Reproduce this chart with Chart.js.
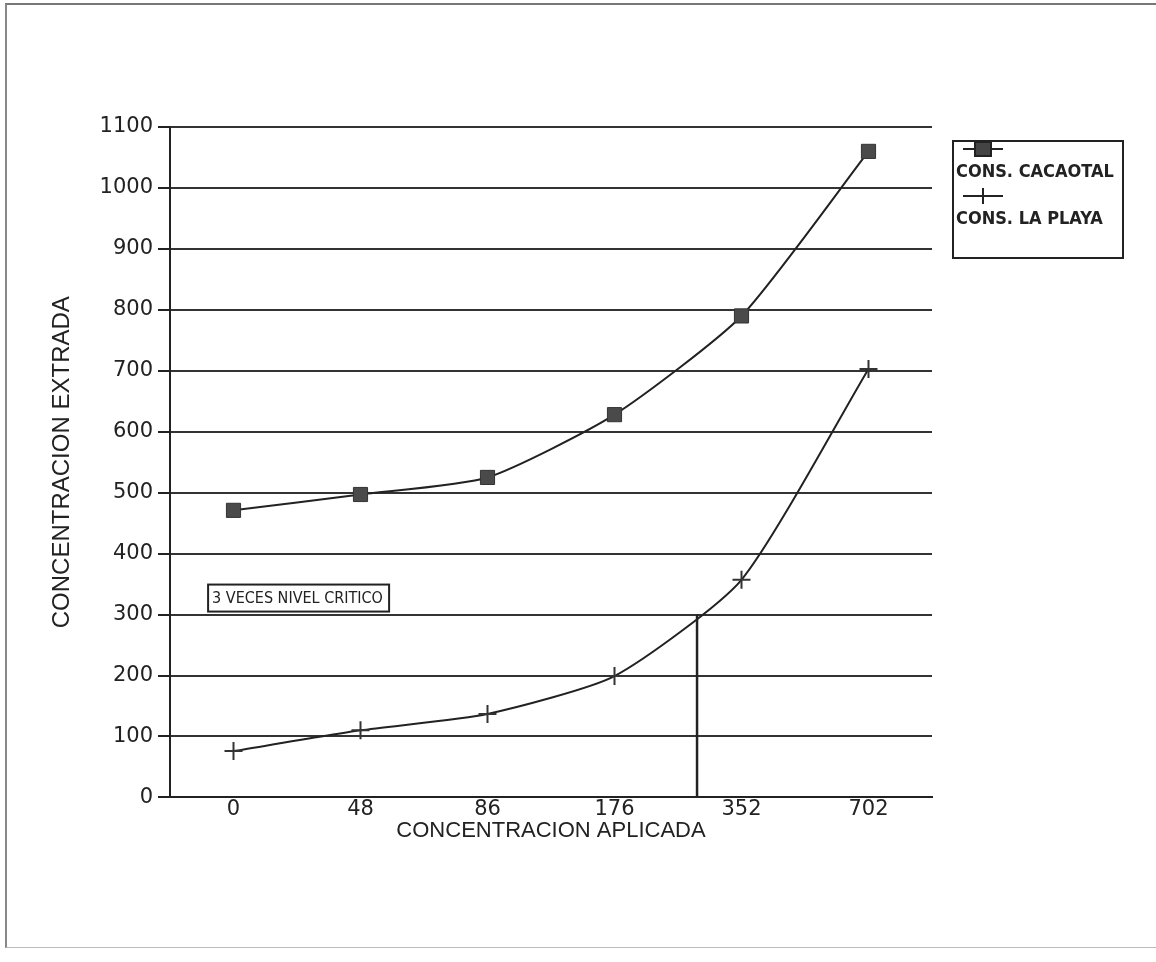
<!DOCTYPE html>
<html>
<head>
<meta charset="utf-8">
<script src="https://cdn.jsdelivr.net/npm/chart.js@4.4.1/dist/chart.umd.min.js"></script>
<style>
  html, body { margin: 0; padding: 0; background: #fff; }
  #wrap { position: relative; width: 1156px; height: 962px; }
  #frame { position: absolute; left: 5px; top: 3px; width: 1151px; height: 942px;
    border-left: 2px solid #888; border-top: 2px solid #777; border-bottom: 1px solid #bbb; }
  canvas { position: absolute; left: 0; top: 0; }
</style>
</head>
<body>
<div id="wrap">
  <div id="frame"></div>
  <canvas id="chart" width="1156" height="962"></canvas>
</div>
<script>
// data
const categories = ["0", "48", "86", "176", "352", "702"];
const cacaotal = [471, 497, 525, 628, 790, 1060];
const laPlaya = [76, 110, 137, 199, 357, 703];
const seriesNames = ["CONS. CACAOTAL", "CONS. LA PLAYA"];
const criticalLabel = "3 VECES NIVEL CRITICO";
const criticalLevel = 300;
const criticalIndex = 3.65; // where the la playa curve crosses 300

const ink = "#222";
const titleFont = "'Liberation Sans', Arial, sans-serif";
const narrowFont = "'Liberation Sans Narrow', 'DejaVu Sans Condensed', sans-serif";
const tickFont = "'DejaVu Sans', sans-serif";

// vertical line + note box
const criticalPlugin = {
  id: "critical",
  afterDatasetsDraw(chart) {
    const ctx = chart.ctx;
    const x = chart.scales.x, y = chart.scales.y;
    const px = x.getPixelForValue(criticalIndex);
    ctx.save();
    ctx.strokeStyle = ink;
    ctx.lineWidth = 2.5;
    ctx.beginPath();
    ctx.moveTo(px, y.getPixelForValue(criticalLevel));
    ctx.lineTo(px, y.getPixelForValue(0));
    ctx.stroke();

    // note box
    ctx.font = "16px " + narrowFont;
    const left = x.getPixelForValue(-0.2);
    const top = y.getPixelForValue(criticalLevel) - 30;
    const w = 181;
    ctx.fillStyle = "#fff";
    ctx.fillRect(left, top, w, 27);
    ctx.lineWidth = 2;
    ctx.strokeRect(left, top, w, 27);
    ctx.fillStyle = ink;
    ctx.textBaseline = "middle";
    ctx.fillText(criticalLabel, left + 4, top + 14, w - 8);
    ctx.restore();
  }
};

// legend box to the right of the plot
const legendPlugin = {
  id: "sideLegend",
  afterDraw(chart) {
    const ctx = chart.ctx;
    const bx = 953, by = 141, bw = 170, bh = 117;
    ctx.save();
    ctx.strokeStyle = ink;
    ctx.lineWidth = 2;
    ctx.strokeRect(bx, by, bw, bh);
    ctx.font = "bold 18px " + narrowFont;
    ctx.textBaseline = "middle";
    chart.data.datasets.forEach((ds, i) => {
      const ly = by + 8 + i * 47;
      ctx.strokeStyle = ink;
      ctx.lineWidth = 2;
      ctx.beginPath();
      ctx.moveTo(bx + 10, ly);
      ctx.lineTo(bx + 50, ly);
      ctx.stroke();
      ctx.fillStyle = "#444";
      if (ds.pointStyle === "rect") {
        ctx.fillRect(bx + 22, ly - 7, 16, 14);
        ctx.strokeRect(bx + 22, ly - 7, 16, 14);
      } else {
        ctx.beginPath();
        ctx.moveTo(bx + 30, ly - 8);
        ctx.lineTo(bx + 30, ly + 8);
        ctx.stroke();
      }
      ctx.fillStyle = ink;
      ctx.fillText(ds.label, bx + 3, ly + 23, bw - 6);
    });
    ctx.restore();
  }
};

new Chart(document.getElementById("chart").getContext("2d"), {
  type: "line",
  data: {
    labels: categories,
    datasets: [
      {
        label: seriesNames[0],
        data: cacaotal,
        borderColor: ink,
        borderWidth: 2,
        backgroundColor: "#4a4a4a",
        pointStyle: "rect",
        pointRadius: 10,
        pointBorderColor: "#333",
        pointBorderWidth: 1,
        tension: 0.2,
      },
      {
        label: seriesNames[1],
        data: laPlaya,
        borderColor: ink,
        borderWidth: 2,
        backgroundColor: ink,
        pointStyle: "cross",
        pointRadius: 9,
        pointBorderColor: "#333",
        pointBorderWidth: 2,
        tension: 0.2,
      },
    ],
  },
  options: {
    responsive: false,
    animation: false,
    maintainAspectRatio: false,
    layout: { padding: { left: 44, right: 224, top: 127, bottom: 114 } },
    plugins: {
      legend: { display: false },
      tooltip: { enabled: false },
    },
    scales: {
      x: {
        offset: true,
        grid: { display: false, drawTicks: true, tickLength: 6, tickColor: ink, tickWidth: 2 },
        border: { color: ink, width: 2 },
        ticks: { color: ink, font: { family: tickFont, size: 21 }, padding: -6 },
        title: {
          display: true,
          text: "CONCENTRACION APLICADA",
          color: ink,
          font: { family: titleFont, size: 22 },
          padding: { top: 1 },
        },
      },
      y: {
        min: 0,
        max: 1100,
        afterFit(scale) { scale.width = 126; },
        grid: { color: "#333", lineWidth: 2, tickLength: 12, tickColor: ink },
        border: { color: ink, width: 2 },
        ticks: {
          stepSize: 100,
          color: ink,
          font: { family: tickFont, size: 21 },
          padding: 5,
          callback: (v) => String(v),
        },
        title: {
          display: true,
          text: "CONCENTRACION EXTRADA",
          color: ink,
          font: { family: titleFont, size: 24 },
          padding: { bottom: 12 },
        },
      },
    },
  },
  plugins: [criticalPlugin, legendPlugin],
});
</script>
</body>
</html>
